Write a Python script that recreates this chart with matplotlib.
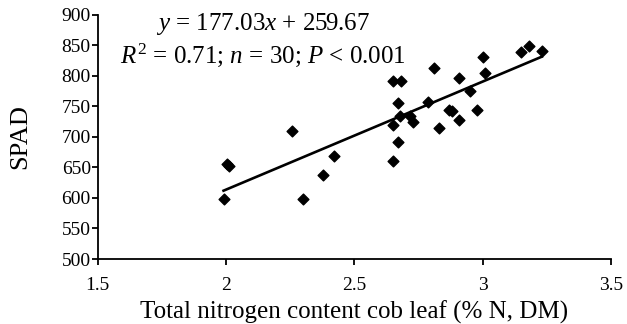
import numpy as np
import matplotlib
matplotlib.use("Agg")
import matplotlib.pyplot as plt

plt.rcParams['font.family'] = ['Liberation Serif', 'DejaVu Serif']
plt.rcParams['mathtext.fontset'] = 'custom'
plt.rcParams['mathtext.rm'] = 'Liberation Serif'
plt.rcParams['mathtext.it'] = 'Liberation Serif:italic'

# total nitrogen (% N, DM) vs SPAD
nitrogen = [1.99, 2.005, 2.01, 2.257, 2.30, 2.377, 2.42, 2.65, 2.68, 2.67,
            2.677, 2.65, 2.716, 2.728, 2.67, 2.65, 2.786, 2.81, 2.83, 2.868,
            2.88, 2.907, 2.907, 2.95, 2.977, 3.0, 3.008, 3.15, 3.18, 3.23]
spad = [599, 655, 652, 709, 599, 637, 668, 791, 791, 755,
        734, 719, 734, 725, 691, 660, 757, 813, 714, 744,
        742, 727, 796, 776, 744, 831, 804, 839, 849, 841]

slope, intercept = 177.03, 259.67

fig = plt.figure(figsize=(6.27, 3.24), dpi=100)
ax = fig.add_axes([0.156, 0.2006, 0.8185, 0.7534])

ax.scatter(nitrogen, spad, marker='D', s=30, color='black', zorder=3)
xl = np.array([min(nitrogen), max(nitrogen)])
ax.plot(xl, slope * xl + intercept, color='black', lw=1.9)

ax.set_xlim(1.5, 3.5)
ax.set_ylim(500, 900)
ax.set_xticks([1.5, 2, 2.5, 3, 3.5])
ax.set_xticklabels(['1.5', '2', '2.5', '3', '3.5'])
ax.set_yticks(range(500, 901, 50))
for s in ['top', 'right']:
    ax.spines[s].set_visible(False)
for s in ['left', 'bottom']:
    ax.spines[s].set_linewidth(1.3)
ax.tick_params(direction='out', length=4, width=1.3, labelsize=14, pad=1)
ax.tick_params(axis='x', pad=9)

ax.set_xlabel('Total nitrogen content cob leaf (% N, DM)', fontsize=18, labelpad=5)
ax.set_ylabel('SPAD', fontsize=19, labelpad=22)

ax.text(0.322, 0.963, r'$y$ = 177.03$x$ + 259.67', transform=ax.transAxes,
        ha='center', va='center', fontsize=18)
ax.text(0.322, 0.836, r'$R^2$ = 0.71; $n$ = 30; $P$ < 0.001', transform=ax.transAxes,
        ha='center', va='center', fontsize=18)

fig.savefig('out.png', dpi=100)
